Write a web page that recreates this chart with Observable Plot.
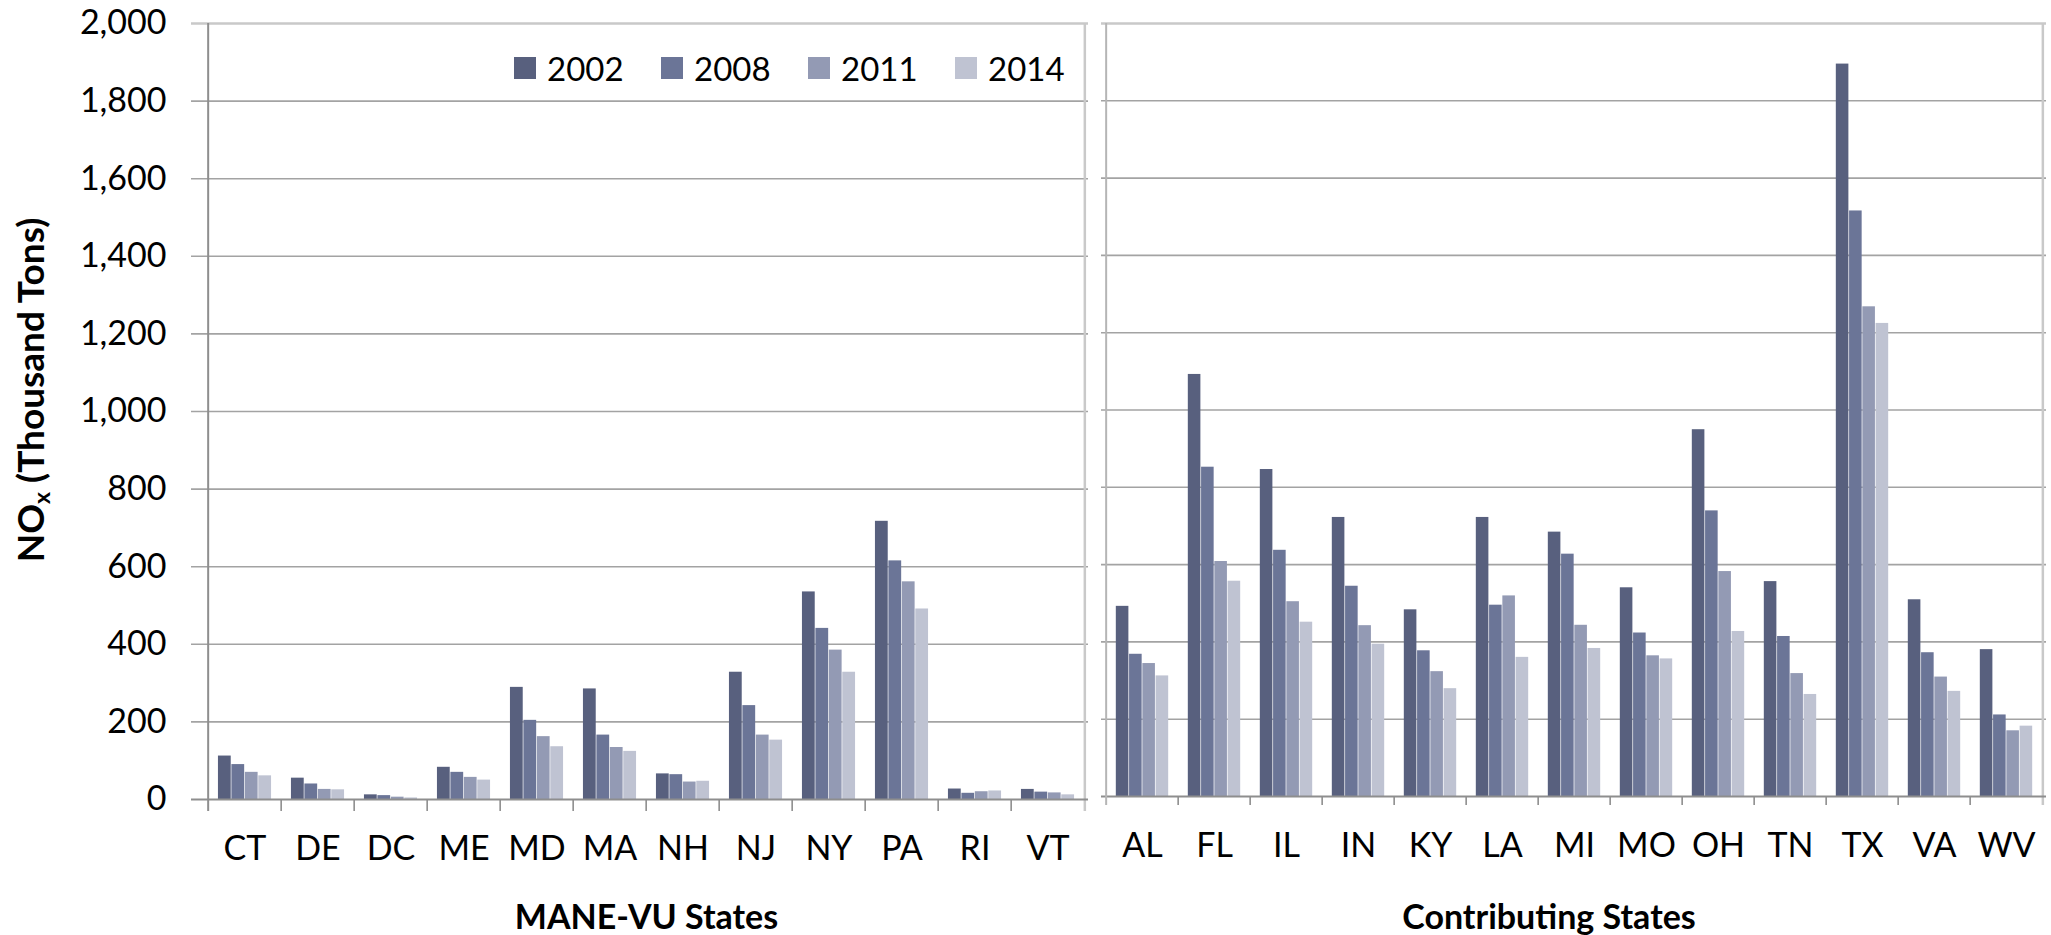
<!DOCTYPE html>
<html>
<head>
<meta charset="utf-8">
<script src="https://cdn.jsdelivr.net/npm/d3@7"></script>
<script src="https://cdn.jsdelivr.net/npm/@observablehq/plot@0.6"></script>
<style>
  html, body { margin: 0; padding: 0; background: #fff; }
  body { width: 2051px; height: 935px; position: relative; overflow: hidden; font-family: Lato, "Open Sans", sans-serif; }
  #chart { position: absolute; left: 0; top: 0; display: flex; }
  #ylabel { position: absolute; left: 31px; top: 390px; transform: translate(-50%, -50%) rotate(-90deg);
            font: bold 37px Lato, sans-serif; white-space: nowrap; color: #000; }
  #ylabel sub { font-size: 0.62em; vertical-align: -0.25em; }
  #legend { position: absolute; left: 514px; top: 49px; display: flex; font: 33px Lato, sans-serif; color: #000; }
  .item { display: flex; align-items: center; width: 147px; height: 38px; }
  .sw { width: 22px; height: 22px; margin-right: 11px; }
</style>
</head>
<body>
<div id="chart"></div>
<div id="ylabel">NO<sub>x</sub> (Thousand Tons)</div>
<div id="legend"></div>
<script>
// ---- data ----
const years = ["2002", "2008", "2011", "2014"];
const yearColors = ["#58607e", "#6b7597", "#939ab4", "#bfc3d2"];
const yTicks = [0, 200, 400, 600, 800, 1000, 1200, 1400, 1600, 1800, 2000];

const maneStates = ["CT", "DE", "DC", "ME", "MD", "MA", "NH", "NJ", "NY", "PA", "RI", "VT"];
const mane2002 = [112, 55, 12, 83, 289, 285, 66, 328, 535, 717, 27, 26];
const mane2008 = [90, 40, 10, 70, 204, 166, 64, 242, 441, 615, 16, 19];
const mane2011 = [70, 26, 6, 57, 162, 134, 45, 166, 385, 561, 20, 17];
const mane2014 = [61, 25, 4, 50, 136, 124, 47, 153, 328, 491, 22, 12];

const contribStates = ["AL", "FL", "IL", "IN", "KY", "LA", "MI", "MO", "OH", "TN", "TX", "VA", "WV"];
const contrib2002 = [492, 1092, 846, 722, 483, 722, 684, 540, 949, 556, 1895, 509, 380];
const contrib2008 = [368, 852, 637, 544, 377, 495, 627, 423, 739, 414, 1515, 372, 211];
const contrib2011 = [344, 608, 504, 442, 323, 519, 443, 364, 582, 318, 1267, 309, 170];
const contrib2014 = [312, 557, 451, 394, 279, 360, 383, 356, 427, 264, 1224, 272, 182];

// ---- drawing ----
function panel({states, series, width, marginLeft, marginRight, marginBottom, showY, title, titleDx, titleDy, axisColor, tickLen}) {
  const rows = [];
  years.forEach((yr, j) => states.forEach((s, i) => rows.push({state: s, year: yr, value: series[j][i]})));
  const bw = (width - marginLeft - marginRight) / states.length;
  const pad = 0.135, barFrac = (1 - 2 * pad) / years.length;
  const gridColor = "#a3a3a3", lightColor = "#c9c9c9", darkColor = "#8e8e8e";
  const ext = showY ? -13 : 0;

  const marks = [
    Plot.ruleY(yTicks.filter(v => v > 0 && v < 2000), {stroke: gridColor, strokeWidth: 1.6, insetLeft: ext}),
    Plot.ruleY([2000], {stroke: lightColor, strokeWidth: 2.5, insetLeft: ext}),
    Plot.ruleX([states[states.length - 1]], {y1: 2000, y2: 0, dx: bw / 2, stroke: lightColor, strokeWidth: 2.5, insetBottom: -tickLen}),
    Plot.ruleX(states.slice(1), {y1: 0, y2: 0, dx: -bw / 2, stroke: darkColor, strokeWidth: 1.6, insetBottom: -tickLen}),
  ];
  years.forEach((yr, j) => {
    marks.push(Plot.barY(rows.filter(d => d.year === yr), {
      x: "state", y: "value", fill: "year",
      insetLeft: bw * (pad + j * barFrac),
      insetRight: bw * (1 - pad - (j + 1) * barFrac)
    }));
  });
  marks.push(
    Plot.ruleY([0], {stroke: darkColor, strokeWidth: 2, insetLeft: ext}),
    Plot.ruleX([states[0]], {y1: 2000, y2: 0, dx: -bw / 2, stroke: axisColor, strokeWidth: 2, insetBottom: -tickLen}),
    Plot.text([title], {text: d => d, frameAnchor: "bottom", dy: titleDy, dx: titleDx, fontWeight: "bold", fontSize: 34, fill: "#000"})
  );

  return Plot.plot({
    width, height: 935,
    marginTop: 23, marginBottom, marginLeft, marginRight,
    style: {fontFamily: "Lato, 'Open Sans', sans-serif", fontSize: "34px", color: "#000", background: "transparent", overflow: "visible"},
    x: {domain: states, padding: 0, tickSize: 0, tickPadding: 36, label: null},
    y: showY
      ? {domain: [0, 2000], ticks: yTicks, tickFormat: d3.format(","), tickSize: 0, tickPadding: 38, label: null}
      : {domain: [0, 2000], axis: null},
    color: {domain: years, range: yearColors},
    marks
  });
}

const chart = document.getElementById("chart");
chart.append(panel({
  states: maneStates, series: [mane2002, mane2008, mane2011, mane2014],
  width: 1090, marginLeft: 204, marginRight: 2, marginBottom: 136, showY: true,
  title: "MANE-VU States", titleDx: 0, titleDy: 129, axisColor: "#8e8e8e", tickLen: 12
}));
chart.append(panel({
  states: contribStates, series: [contrib2002, contrib2008, contrib2011, contrib2014],
  width: 961, marginLeft: 11, marginRight: 5, marginBottom: 139, showY: false,
  title: "Contributing States", titleDx: -25, titleDy: 132, axisColor: "#b5b5b5", tickLen: 9
}));

// legend
const legend = document.getElementById("legend");
years.forEach((yr, j) => {
  const item = document.createElement("div");
  item.className = "item";
  const sw = document.createElement("span");
  sw.className = "sw";
  sw.style.background = yearColors[j];
  const t = document.createElement("span");
  t.textContent = yr;
  item.append(sw, t);
  legend.append(item);
});
</script>
</body>
</html>
